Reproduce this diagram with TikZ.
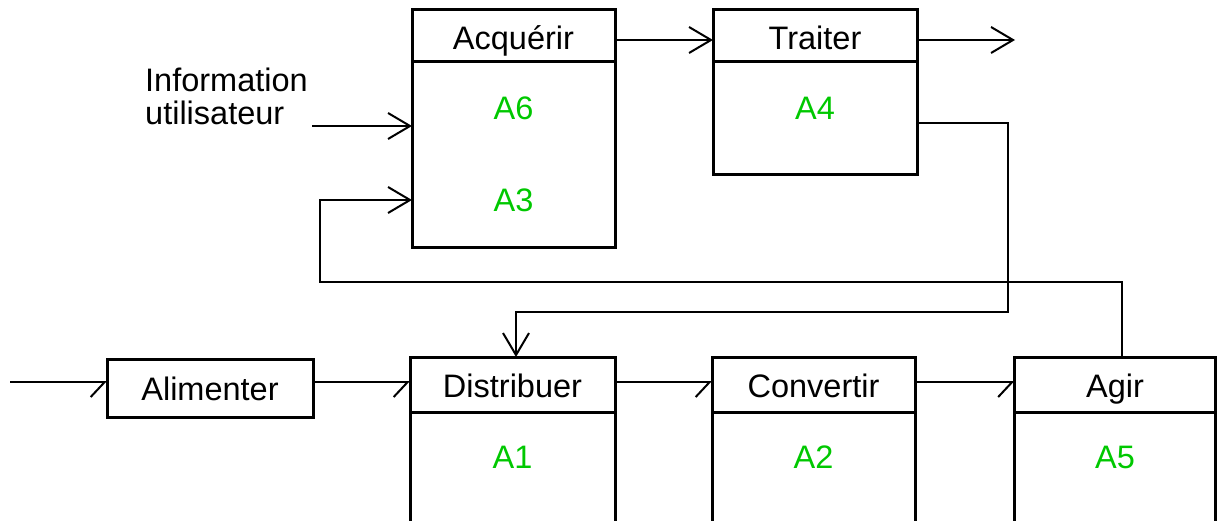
\documentclass[tikz,border=0pt]{standalone}
\usepackage{fontspec}
\setmainfont{Liberation Sans}
\usetikzlibrary{arrows.meta}
\definecolor{agreen}{RGB}{0,200,0}
\begin{document}
\begin{tikzpicture}[x=1pt,y=-1pt,
  box/.style={draw, line width=3pt, minimum width=203pt, inner sep=0pt, outer sep=0pt},
  divider/.style={line width=3pt},
  lbl/.style={font=\fontsize{32.5}{36}\selectfont, inner sep=0pt, anchor=base},
  code/.style={lbl, text=agreen},
  conn/.style={line width=2pt},
  farr/.style={conn, -{Straight Barb[length=22pt,width=26pt]}},
  harr/.style={conn, -{Straight Barb[harpoon,swap,length=14pt,width=30pt]}}]
\useasboundingbox (0,0) rectangle (1217,521);
\clip (0,0) rectangle (1217,521);

% boxes
\node[box, minimum height=238pt] (acq) at (513.5,129) {};
\node[box, minimum height=165pt, minimum width=204pt] (tra) at (815,92.5) {};
\node[box, minimum height=58pt, minimum width=206pt] (alim) at (210,388) {};
\node[box, minimum height=203pt, minimum width=205pt] (dis) at (512.5,458.5) {};
\node[box, minimum height=203pt] (con) at (813.5,458.5) {};
\node[box, minimum height=203pt, minimum width=201pt] (agi) at (1115,458.5) {};

% header dividers
\coordinate (topdiv) at (0,62);
\coordinate (botdiv) at (0,412.5);
\draw[divider] (acq.west |- topdiv) -- (acq.east |- topdiv);
\draw[divider] (tra.west |- topdiv) -- (tra.east |- topdiv);
\draw[divider] (dis.west |- botdiv) -- (dis.east |- botdiv);
\draw[divider] (con.west |- botdiv) -- (con.east |- botdiv);
\draw[divider] (agi.west |- botdiv) -- (agi.east |- botdiv);

% labels
\node[lbl] (acqh) at (513.5,50) {Acquérir};
\node[lbl] (trah) at (815,50) {Traiter};
\node[lbl] (alimh) at (210,400) {Alimenter};
\node[lbl] (dish) at (512.5,397) {Distribuer};
\node[lbl] (conh) at (813.5,397) {Convertir};
\node[lbl] (agih) at (1115,397) {Agir};
\node[code] (a6) at (513.5,120) {A6};
\node[code] (a3) at (513.5,212) {A3};
\node[code] (a4) at (815,120) {A4};
\node[code] (a1) at (512.5,468) {A1};
\node[code] (a2) at (813.5,468) {A2};
\node[code] (a5) at (1115,468) {A5};
\node[font=\fontsize{32.5}{33}\selectfont, inner sep=0pt, anchor=base west, align=left] (info) at (145,125) {Information\\utilisateur};

% coordinates for connectors
\coordinate (toprow) at (0,40);
\coordinate (botrow) at (0,382);
\coordinate (infoin) at (312,126);
\coordinate (in) at (10,382);
\coordinate (out) at (1015,40);
\coordinate (a4row) at (0,123);
\coordinate (fbx) at (1008,312);
\coordinate (agiy) at (0,282);
\coordinate (retx) at (320,200);

% top connectors
\draw[farr] (acq.east |- toprow) -- (tra.west |- toprow);
\draw[farr] (tra.east |- toprow) -- (out);
\draw[farr] (infoin) -- (infoin -| acq.west);

% bottom connectors
\draw[harr] (in) -- (in -| alim.west);
\draw[harr] (alim.east |- botrow) -- (dis.west |- botrow);
\draw[harr] (dis.east |- botrow) -- (con.west |- botrow);
\draw[harr] (con.east |- botrow) -- (agi.west |- botrow);

% feedback Traiter -> Distribuer
\draw[farr] (tra.east |- a4row) -| (fbx) -- (fbx -| 516,0) -- (516,0 |- dis.north);
% feedback Agir -> Acquerir
\draw[farr] (agi.north -| 1122,0) -- (1122,0 |- agiy) -| (retx) -- (retx -| acq.west);
\end{tikzpicture}
\end{document}
